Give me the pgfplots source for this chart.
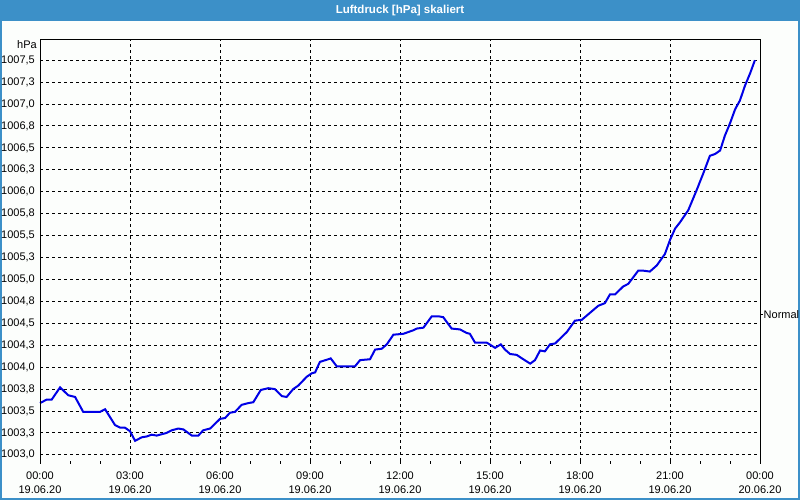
\documentclass[border=0pt]{standalone}
\usepackage{pgfplots}
\pgfplotsset{compat=1.18}
\usepackage{fontspec}
\setmainfont{Liberation Sans}
\definecolor{barblue}{RGB}{60,144,200}
\definecolor{bgwhite}{RGB}{252,254,252}
\definecolor{curveblue}{RGB}{0,0,230}

\pgfplotstableread{
h p
0.00 1003.59
0.22 1003.63
0.39 1003.63
0.67 1003.77
0.94 1003.68
1.17 1003.66
1.44 1003.49
2.00 1003.49
2.17 1003.52
2.50 1003.34
2.67 1003.31
2.83 1003.31
3.00 1003.27
3.17 1003.16
3.39 1003.20
3.56 1003.21
3.72 1003.23
3.89 1003.22
4.11 1003.24
4.22 1003.25
4.39 1003.28
4.61 1003.30
4.78 1003.29
5.06 1003.22
5.28 1003.22
5.44 1003.28
5.67 1003.30
6.00 1003.41
6.17 1003.42
6.33 1003.48
6.50 1003.49
6.72 1003.57
6.94 1003.59
7.11 1003.60
7.36 1003.74
7.61 1003.76
7.83 1003.75
8.06 1003.67
8.22 1003.66
8.44 1003.75
8.61 1003.79
8.89 1003.89
9.06 1003.93
9.17 1003.94
9.33 1004.06
9.61 1004.09
9.69 1004.10
9.89 1004.01
10.11 1004.01
10.50 1004.01
10.67 1004.08
11.00 1004.09
11.17 1004.20
11.39 1004.21
11.56 1004.26
11.78 1004.37
12.11 1004.38
12.44 1004.42
12.56 1004.44
12.78 1004.45
13.06 1004.58
13.28 1004.58
13.44 1004.57
13.72 1004.44
14.00 1004.43
14.22 1004.39
14.33 1004.38
14.50 1004.28
14.89 1004.28
15.17 1004.22
15.36 1004.26
15.50 1004.20
15.67 1004.15
15.89 1004.14
16.11 1004.09
16.34 1004.04
16.50 1004.08
16.67 1004.19
16.83 1004.18
17.00 1004.26
17.17 1004.27
17.56 1004.40
17.83 1004.53
18.06 1004.54
18.61 1004.70
18.83 1004.73
19.00 1004.83
19.17 1004.83
19.44 1004.92
19.61 1004.95
19.94 1005.10
20.11 1005.10
20.33 1005.09
20.56 1005.16
20.83 1005.29
21.00 1005.45
21.17 1005.58
21.33 1005.65
21.61 1005.79
21.89 1006.02
22.11 1006.21
22.33 1006.41
22.50 1006.43
22.67 1006.47
22.83 1006.64
23.00 1006.78
23.17 1006.94
23.33 1007.04
23.50 1007.21
23.67 1007.35
23.83 1007.50
}\druck

\begin{document}
\begin{tikzpicture}
  % Hintergrund, Rahmen und Titelleiste (1px = 1bp)
  \path[use as bounding box] (-40bp,-39bp) rectangle (760bp,461bp);
  \fill[bgwhite] (-40bp,-39bp) rectangle (760bp,461bp);
  \draw[barblue, line width=2bp] (-39bp,-38bp) rectangle (759bp,460bp);
  \fill[barblue] (-40bp,440bp) rectangle (760bp,461bp);
  \node[white, font=\fontsize{11.5bp}{13bp}\selectfont\bfseries] at (360bp,450.5bp) {Luftdruck [hPa] skaliert};

  \begin{axis}[
    at={(0,0)}, anchor=south west,
    scale only axis,
    width=720bp, height=421bp,
    xmin=0, xmax=24,
    ymin=1002.93, ymax=1007.73,
    axis line style={draw=none},
    xtick={0,3,...,24},
    xticklabels={{00:00\\19.06.20},{03:00\\19.06.20},{06:00\\19.06.20},{09:00\\19.06.20},{12:00\\19.06.20},{15:00\\19.06.20},{18:00\\19.06.20},{21:00\\19.06.20},{00:00\\20.06.20}},
    xticklabel style={align=center, font=\fontsize{11bp}{14bp}\selectfont, inner sep=1bp, yshift=-7bp},
    minor x tick num=2,
    xtick pos=bottom,
    tick align=outside,
    major tick length=3bp,
    minor tick length=3bp,
    x tick style={black, line width=1bp},
    ytick={1003,1003.25,1003.5,1003.75,1004,1004.25,1004.5,1004.75,1005,1005.25,1005.5,1005.75,1006,1006.25,1006.5,1006.75,1007,1007.25,1007.5},
    yticklabels={1003{,}0,1003{,}3,1003{,}5,1003{,}8,1004{,}0,1004{,}3,1004{,}5,1004{,}8,1005{,}0,1005{,}3,1005{,}5,1005{,}8,1006{,}0,1006{,}3,1006{,}5,1006{,}8,1007{,}0,1007{,}3,1007{,}5},
    yticklabel style={font=\fontsize{11bp}{13bp}\selectfont, inner sep=1bp, xshift=-1bp},
    y tick style={draw=none},
    xmajorgrids, ymajorgrids,
    grid style={black, line width=1bp, dash pattern=on 3bp off 3bp},
    clip=false,
  ]
  \addplot[curveblue, line width=2bp] table[x=h, y=p] {\druck};

  % Rahmen oben, links, rechts
  \draw[black, line width=1bp] (rel axis cs:0,0) -- (rel axis cs:0,1) -- (rel axis cs:1,1) -- (rel axis cs:1,0);
  \node[anchor=east, inner sep=0pt, font=\fontsize{11bp}{13bp}\selectfont] at ([xshift=-3bp, yshift=-5bp]rel axis cs:0,1) {hPa};

  % Normalwert rechts
  \draw[black, line width=1bp] (axis cs:24,1004.6) -- ([xshift=3bp]axis cs:24,1004.6);
  \node[anchor=west, inner sep=0pt, font=\fontsize{11bp}{13bp}\selectfont] at ([xshift=3.5bp]axis cs:24,1004.6) {Normal};
  \end{axis}
\end{tikzpicture}
\end{document}
